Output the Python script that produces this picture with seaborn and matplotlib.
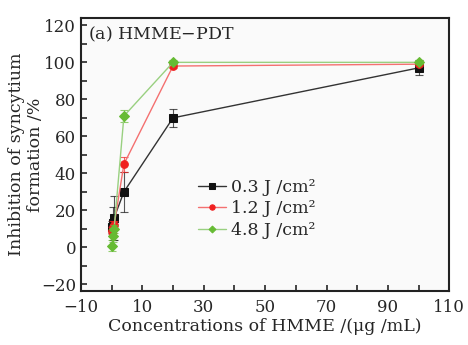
import matplotlib.pyplot as plt
import matplotlib.ticker as mticker
import pandas as pd
import seaborn as sns
import numpy as np

# concentrations (ug/mL) and inhibition values
conc = [0.2, 0.4, 0.8, 4, 20, 100]
dose_labels = ['0.3 J /cm²', '1.2 J /cm²', '4.8 J /cm²']
inh_03 = [11, 13, 16, 30, 70, 97]
err_03 = [3, 9, 12, 11, 5, 4]
inh_12 = [9, 11, 12, 45, 98, 99]
err_12 = [2, 3, 2, 4, 1, 1]
inh_48 = [1, 6, 10, 71, 100, 100]
err_48 = [3, 3, 2, 3, 1, 1]

colors = ['#111111', '#f02020', '#66bb33']
line_colors = ['#333333', '#f47070', '#99d080']
markers = ['s', 'o', 'D']

df = pd.DataFrame({
    'conc': conc * 3,
    'inh': inh_03 + inh_12 + inh_48,
    'err': err_03 + err_12 + err_48,
    'dose': np.repeat(dose_labels, len(conc)),
})

sns.set_style('ticks')
plt.rcParams['font.family'] = ['DejaVu Serif']
plt.rcParams['mathtext.fontset'] = 'dejavuserif'

fig, ax = plt.subplots(figsize=(4.68, 3.45), dpi=100)
fig.patch.set_facecolor('white')
ax.set_facecolor('#fafafa')
fig.subplots_adjust(left=0.173, right=0.96, top=0.948, bottom=0.157)

for i, lab in enumerate(dose_labels):
    d = df[df['dose'] == lab]
    ax.errorbar(d['conc'], d['inh'], yerr=d['err'], fmt='none',
                ecolor=colors[i], elinewidth=0.8, capsize=3, capthick=0.8, alpha=0.7)
    sns.lineplot(data=d, x='conc', y='inh', ax=ax, color=line_colors[i], lw=1.0,
                 marker=markers[i], markersize=5.5 if i != 2 else 5,
                 markerfacecolor=colors[i], markeredgecolor=colors[i],
                 label=lab, errorbar=None, sort=True)

ax.set_xlim(-10, 110)
ax.set_ylim(-23.5, 124)
ax.xaxis.set_major_locator(mticker.MultipleLocator(20, offset=-10))
ax.xaxis.set_minor_locator(mticker.MultipleLocator(10))
ax.yaxis.set_major_locator(mticker.MultipleLocator(20))
ax.yaxis.set_minor_locator(mticker.MultipleLocator(10))
ax.set_yticks(np.arange(-20, 121, 20))
ax.tick_params(which='both', direction='in', length=4, width=1.2,
               labelsize=12, top=False, right=False)
ax.tick_params(axis='x', pad=6)
for s in ax.spines.values():
    s.set_linewidth(1.5)
    s.set_color('#222222')

ax.set_xlabel('Concentrations of HMME /(μg /mL)', fontsize=12.5, labelpad=1)
ax.set_ylabel('Inhibition of syncytium\nformation /%', fontsize=12.5,
              linespacing=1.2)
ax.yaxis.set_label_coords(-0.1, 0.5)

ax.text(0.02, 0.975, '(a) HMME$-$PDT', transform=ax.transAxes, fontsize=12.5,
        ha='left', va='top')

leg = ax.legend(loc='upper left', bbox_to_anchor=(0.3, 0.435), frameon=False,
                fontsize=12.5, handlelength=1.6, handletextpad=0.3,
                labelspacing=0.25, borderaxespad=0, markerscale=0.7)

fig.savefig('out.png', dpi=100)
